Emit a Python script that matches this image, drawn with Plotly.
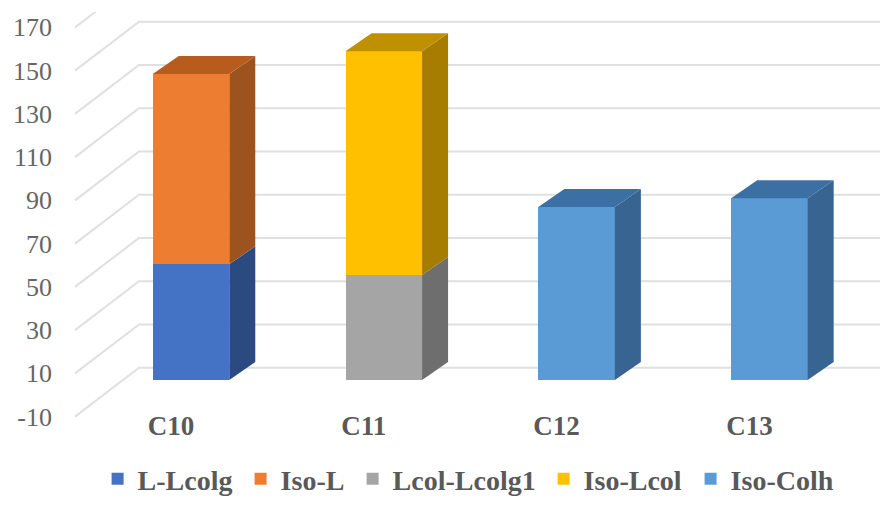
import numpy as np
import plotly.graph_objects as go

# Data
categories = ["C10", "C11", "C12", "C13"]
series_names = ["L-Lcolg", "Iso-L", "Lcol-Lcolg1", "Iso-Lcol", "Iso-Colh"]
l_lcolg = [53.5, None, None, None]
iso_l = [88, None, None, None]
lcol_lcolg1 = [None, 48.5, None, None]
iso_lcol = [None, 103.5, None, None]
iso_colh = [None, None, 80, 84]
y_ticks = [-10, 10, 30, 50, 70, 90, 110, 130, 150, 170]
y_tick_labels = ["-10", "10", "30", "50", "70", "90", "110", "130", "150", "170"]

front_colors = ["#4472C4", "#ED7D31", "#A5A5A5", "#FFC000", "#5B9BD5"]
side_colors = ["#2A4A80", "#9C5320", "#6E6E6E", "#A67D00", "#386492"]
top_colors = ["#2F5597", "#B85C1E", "#7F7F7F", "#BF9000", "#3C70A4"]
legend_text_starts_px = [137, 280, 392, 583, 730]

W, H = 880, 511
MT = 12
PITCH = 192.8          # px per category
PX_PER_UNIT = 2.1625   # px per value unit
X0_PX, Y0_PX = 191, 380
BAR_W = 0.397
DEPTH_X, DEPTH_Y = 26 / PITCH, 18 / PX_PER_UNIT

x_range = [(0 - X0_PX) / PITCH, (W - X0_PX) / PITCH]
y_range = [(Y0_PX - H) / PX_PER_UNIT, (Y0_PX - MT) / PX_PER_UNIT]

xs = np.arange(len(categories))
all_series = [l_lcolg, iso_l, lcol_lcolg1, iso_lcol, iso_colh]
SERIF = "Liberation Serif"

fig = go.Figure()

# Front faces, each with its own legend so entries keep the original spacing
legends = {}
for k, (name, vals, col, start) in enumerate(zip(series_names, all_series, front_colors, legend_text_starts_px)):
    key = "legend" if k == 0 else f"legend{k + 1}"
    legends[key] = dict(orientation="h", x=(start - 39.4) / W, xanchor="left", y=0.114, yanchor="top",
                        font=dict(family=SERIF, size=28, color="#595959", weight="bold"),
                        bgcolor="rgba(0,0,0,0)")
    fig.add_trace(go.Bar(x=xs, y=vals, name=name, width=BAR_W, legend=key,
                         marker=dict(color=col, line=dict(width=0))))

# Depth faces: a side for every segment, a top only for the highest one
totals = [sum(s[i] or 0 for s in all_series) for i in range(len(categories))]
stack = np.zeros(len(categories))
for vals, side, top in zip(all_series, side_colors, top_colors):
    for i, v in enumerate(vals):
        if v is None:
            continue
        b, t = stack[i], stack[i] + v
        xr = xs[i] + BAR_W / 2
        xl = xs[i] - BAR_W / 2
        fig.add_trace(go.Scatter(
            x=[xr, xr + DEPTH_X, xr + DEPTH_X, xr, xr],
            y=[b, b + DEPTH_Y, t + DEPTH_Y, t, b],
            mode="lines", fill="toself", fillcolor=side,
            line=dict(width=0, color=side), showlegend=False, hoverinfo="skip"))
        if t == totals[i]:
            fig.add_trace(go.Scatter(
                x=[xl, xl + DEPTH_X, xr + DEPTH_X, xr, xl],
                y=[t, t + DEPTH_Y, t + DEPTH_Y, t, t],
                mode="lines", fill="toself", fillcolor=top,
                line=dict(width=0, color=top), showlegend=False, hoverinfo="skip"))
        stack[i] = t

# Perspective gridlines on the floor/back wall, beneath the bars
wall_front_x = (75 - X0_PX) / PITCH
wall_back_x = (139 - X0_PX) / PITCH
front_shift = -15 / PX_PER_UNIT
back_shift = 34 / PX_PER_UNIT
shapes = []
for v in y_ticks:
    path = (f"M {wall_front_x},{v + front_shift} "
            f"L {wall_back_x},{v + back_shift} "
            f"L {x_range[1]},{v + back_shift}")
    shapes.append(dict(type="path", path=path, xref="x", yref="y", layer="below",
                       line=dict(color="#E0E0E0", width=2)))

fig.update_layout(
    width=W, height=H,
    margin=dict(l=0, r=0, t=MT, b=0, autoexpand=False),
    paper_bgcolor="white", plot_bgcolor="rgba(0,0,0,0)",
    barmode="stack",
    shapes=shapes,
    showlegend=True,
    xaxis=dict(range=x_range, tickmode="array", tickvals=list(xs), ticktext=categories,
               anchor="free", position=(H - 400) / (H - MT), showgrid=False, zeroline=False,
               showline=False, ticks="", ticklabelshift=-20, ticklabelstandoff=7,
               tickfont=dict(family=SERIF, size=27, color="#595959", weight="bold")),
    yaxis=dict(range=y_range, tickmode="array", tickvals=y_ticks, ticktext=y_tick_labels,
               anchor="free", position=75 / W, side="left", showgrid=False, zeroline=False,
               showline=False, ticks="", ticklabelshift=15, ticklabelstandoff=23,
               tickfont=dict(family=SERIF, size=26, color="#666666")),
    **legends,
)

fig.write_html("out.html", config={"displayModeBar": False},
               post_script="document.body.style.margin='0';window.dispatchEvent(new Event('resize'));")
